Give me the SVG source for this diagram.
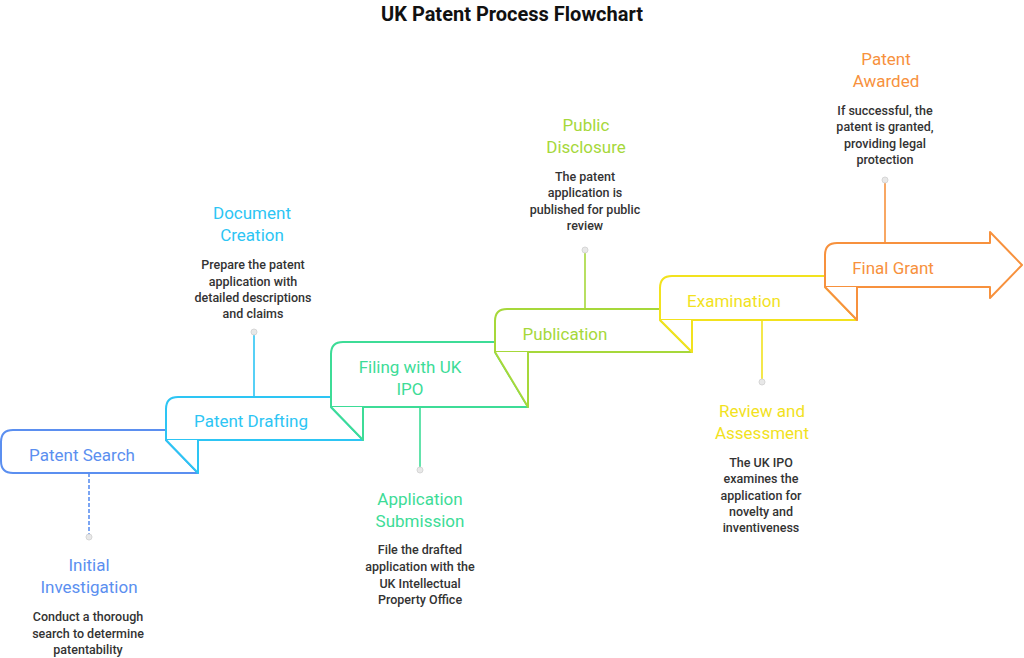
<svg xmlns="http://www.w3.org/2000/svg" width="1024" height="658" viewBox="0 0 1024 658">
<style>
text{font-family:Roboto,"Liberation Sans",sans-serif;text-anchor:middle}
.t{font-size:17px}
.d{font-size:12.5px;fill:#333;font-weight:500}
.box{fill:#fff;stroke-width:2;stroke-linejoin:round}
.st{stroke-width:1.6;fill:none}
.dot{fill:#e8e8e8;stroke:#d6d6d6;stroke-width:1}
</style>
<rect width="1024" height="658" fill="#fff"/>
<text x="512" y="21" style="font-size:20px;font-weight:700" fill="#111">UK Patent Process Flowchart</text>
<g id="connectors">
<line class="st" x1="89" y1="473" x2="89" y2="535" stroke="#5B8FF0" stroke-dasharray="4 2"/><circle class="dot" cx="89" cy="537" r="3"/>
<line class="st" x1="254" y1="397" x2="254" y2="334" stroke="#2DC5F4"/><circle class="dot" cx="254" cy="332" r="3"/>
<line class="st" x1="420" y1="407" x2="420" y2="468" stroke="#3DDC97"/><circle class="dot" cx="420" cy="470" r="3"/>
<line class="st" x1="585" y1="309" x2="585" y2="252" stroke="#A6D83A"/><circle class="dot" cx="585" cy="250" r="3"/>
<line class="st" x1="762" y1="320" x2="762" y2="380" stroke="#F2E21E"/><circle class="dot" cx="762" cy="382" r="3"/>
<line class="st" x1="885" y1="243" x2="885" y2="182" stroke="#F7913D"/><circle class="dot" cx="885" cy="180" r="3"/>
</g>
<g id="step1">
<path class="box" stroke="#5B8FF0" d="M166,430 H13 Q1,430 1,442 V461 Q1,473 13,473 H198 L166,440 Z"/>
<text class="t" x="82" y="461" fill="#5B8FF0">Patent Search</text>
</g>
<g id="step2">
<path class="box" stroke="#2DC5F4" d="M331,397 H178 Q166,397 166,409 V440 H363 L331,407"/>
<path class="box" stroke="#2DC5F4" d="M166,440 L198,473 V440"/>
<text class="t" x="251" y="427" fill="#2DC5F4">Patent Drafting</text>
</g>
<g id="step3">
<path class="box" stroke="#3DDC97" d="M495,342 H343 Q331,342 331,354 V407 H528 L495,352"/>
<path class="box" stroke="#3DDC97" d="M331,407 L363,440 V407"/>
<text class="t" x="410" y="373" fill="#3DDC97">Filing with UK</text>
<text class="t" x="410" y="395" fill="#3DDC97">IPO</text>
</g>
<g id="step4">
<path class="box" stroke="#A6D83A" d="M660,309 H507 Q495,309 495,321 V352 H692 L660,320"/>
<path class="box" stroke="#A6D83A" d="M495,352 L528,407 V352"/>
<text class="t" x="565" y="340" fill="#A6D83A">Publication</text>
</g>
<g id="step5">
<path class="box" stroke="#F2E21E" d="M825,276 H672 Q660,276 660,288 V320 H857 L825,287"/>
<path class="box" stroke="#F2E21E" d="M660,320 L692,352 V320"/>
<text class="t" x="734" y="307" fill="#F2E21E">Examination</text>
</g>
<g id="step6">
<path class="box" stroke="#F7913D" d="M837,243 H990 V232 L1022,265 L990,298 V287 H825 V255 Q825,243 837,243 Z"/>
<path class="box" stroke="#F7913D" d="M825,287 L857,320 V287"/>
<text class="t" x="893" y="274" fill="#F7913D">Final Grant</text>
</g>
<g id="label1">
<text class="t" x="89" y="571" fill="#5B8FF0">Initial</text><text class="t" x="89" y="593" fill="#5B8FF0">Investigation</text>
<text class="d" x="88" y="621">Conduct a thorough</text><text class="d" x="88" y="638">search to determine</text><text class="d" x="88" y="654">patentability</text>
</g>
<g id="label2">
<text class="t" x="252" y="219" fill="#2DC5F4">Document</text><text class="t" x="252" y="241" fill="#2DC5F4">Creation</text>
<text class="d" x="253" y="269">Prepare the patent</text><text class="d" x="253" y="286">application with</text><text class="d" x="253" y="302">detailed descriptions</text><text class="d" x="253" y="318">and claims</text>
</g>
<g id="label3">
<text class="t" x="420" y="505" fill="#3DDC97">Application</text><text class="t" x="420" y="527" fill="#3DDC97">Submission</text>
<text class="d" x="420" y="554">File the drafted</text><text class="d" x="420" y="571">application with the</text><text class="d" x="420" y="588">UK Intellectual</text><text class="d" x="420" y="604">Property Office</text>
</g>
<g id="label4">
<text class="t" x="586" y="131" fill="#A6D83A">Public</text><text class="t" x="586" y="153" fill="#A6D83A">Disclosure</text>
<text class="d" x="585" y="181">The patent</text><text class="d" x="585" y="197">application is</text><text class="d" x="585" y="214">published for public</text><text class="d" x="585" y="230">review</text>
</g>
<g id="label5">
<text class="t" x="762" y="417" fill="#F2E21E">Review and</text><text class="t" x="762" y="439" fill="#F2E21E">Assessment</text>
<text class="d" x="761" y="467">The UK IPO</text><text class="d" x="761" y="483">examines the</text><text class="d" x="761" y="500">application for</text><text class="d" x="761" y="516">novelty and</text><text class="d" x="761" y="532">inventiveness</text>
</g>
<g id="label6">
<text class="t" x="886" y="65" fill="#F7913D">Patent</text><text class="t" x="886" y="87" fill="#F7913D">Awarded</text>
<text class="d" x="885" y="115">If successful, the</text><text class="d" x="885" y="131">patent is granted,</text><text class="d" x="885" y="148">providing legal</text><text class="d" x="885" y="164">protection</text>
</g>
</svg>
